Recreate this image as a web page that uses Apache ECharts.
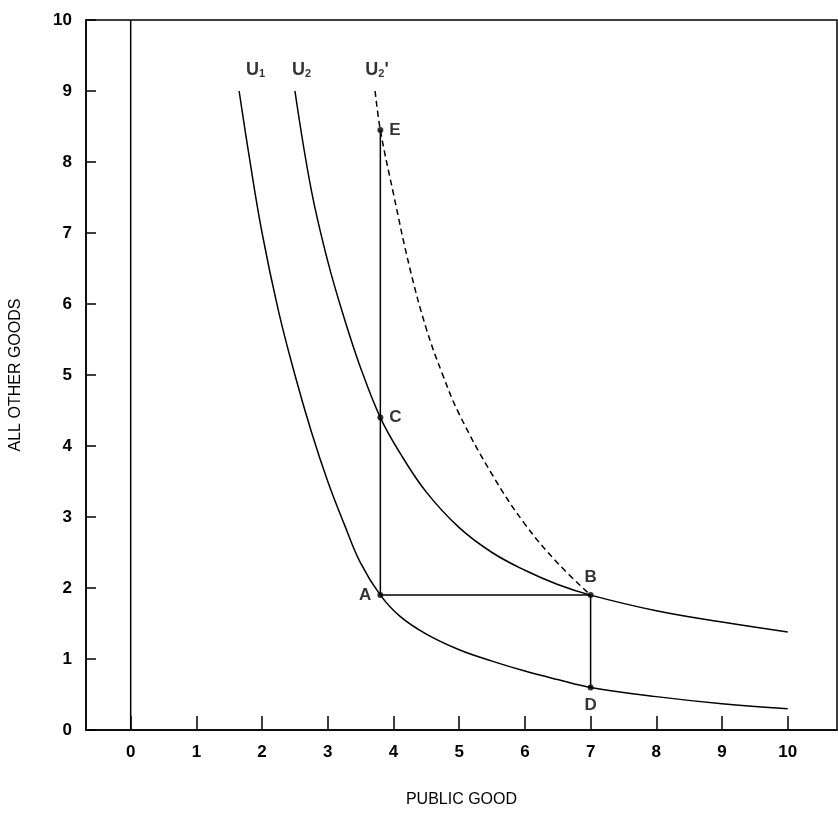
<!DOCTYPE html>
<html><head><meta charset="utf-8">
<script src="https://cdn.jsdelivr.net/npm/echarts@6/dist/echarts.min.js"></script>
<style>body{margin:0;background:#fff}#main{width:838px;height:831px}</style>
</head><body><div id="main"></div>
<script>
var ticks = [0, 1, 2, 3, 4, 5, 6, 7, 8, 9, 10];
var u1 = [[1.65,9],[1.8,8.1],[2,7],[2.25,5.9],[2.5,5],[2.75,4.2],[3,3.5],[3.25,2.9],[3.5,2.35],[3.8,1.9],[4.1,1.6],[4.5,1.35],[5,1.13],[5.5,0.97],[6,0.83],[6.5,0.71],[7,0.6],[8,0.47],[9,0.37],[10,0.3]];
var u2 = [[2.5,9],[2.75,7.6],[3,6.6],[3.25,5.8],[3.5,5.1],[3.8,4.4],[4.1,3.9],[4.5,3.35],[5,2.85],[5.5,2.5],[6,2.25],[6.5,2.05],[7,1.9],[8,1.68],[9,1.52],[10,1.38]];
var u2p = [[3.72,9],[3.8,8.45],[4,7.55],[4.25,6.5],[4.5,5.65],[4.75,5],[5,4.45],[5.5,3.6],[6,2.9],[6.5,2.35],[7,1.9]];
var segs = [[[3.8,1.9],[3.8,8.45]], [[3.8,1.9],[7,1.9]], [[7,1.9],[7,0.6]], [[0,0],[0,10]]];
var pts = [['A',3.8,1.9,'left'],['B',7,1.9,'top'],['C',3.8,4.4,'right'],['D',7,0.6,'bottom'],['E',3.8,8.45,'right']];
var curveLabels = [['{b|U}{s|1}',1.9,9.3],['{b|U}{s|2}',2.6,9.3],['{b|U}{s|2}{b|\'}',3.75,9.3]];

var font = {fontFamily: 'Liberation Sans', fontWeight: 'bold', fontSize: 17, color: '#000'};
var rich = {b: {fontFamily: 'Liberation Sans', fontWeight: 'bold', fontSize: 18, color: '#000'},
  s: {fontFamily: 'Liberation Sans', fontWeight: 'bold', fontSize: 11, color: '#000', verticalAlign: 'bottom', padding: [8, 0, 0, 0]}};
var series = [];
[u1, u2].forEach(function (d) {
  series.push({type: 'line', data: d, smooth: 0.4, symbol: 'none', lineStyle: {color: '#000', width: 1.5}});
});
series.push({type: 'line', data: u2p, smooth: 0.4, symbol: 'none', lineStyle: {color: '#000', width: 1.5, type: [6, 4]}});
segs.forEach(function (s) {
  series.push({type: 'line', data: s, symbol: 'none', lineStyle: {color: '#000', width: 1.5}});
});
series.push({type: 'scatter', symbolSize: 6, itemStyle: {color: '#000'},
  data: pts.map(function (p) { return {value: [p[1], p[2]], label: {show: true, formatter: p[0], position: p[3], distance: 6, color: '#000'}}; }),
  label: font});
series.push({type: 'scatter', symbolSize: 0,
  data: curveLabels.map(function (p) { return {value: [p[1], p[2]], label: {show: true, formatter: p[0], position: 'inside', rich: rich}}; }),
  label: font});

var chart = echarts.init(document.getElementById('main'));
chart.setOption({
  animation: false,
  grid: {left: 85, right: 1, top: 20, bottom: 101, show: true, borderColor: '#000', borderWidth: 1.5},
  xAxis: {type: 'value', min: -0.68, max: 10.75, splitLine: {show: false},
    name: 'PUBLIC GOOD', nameLocation: 'middle', nameGap: 62, nameTextStyle: {fontFamily: 'Liberation Sans', fontSize: 16, color: '#000'},
    axisLine: {onZero: false, lineStyle: {color: '#000', width: 1.5}},
    axisTick: {inside: true, length: 14, customValues: ticks, lineStyle: {color: '#000', width: 1.5}},
    axisLabel: Object.assign({customValues: ticks, margin: 14}, font)},
  yAxis: {type: 'value', min: 0, max: 10, interval: 1, splitLine: {show: false},
    name: 'ALL OTHER GOODS', nameLocation: 'middle', nameGap: 62, nameTextStyle: {fontFamily: 'Liberation Sans', fontSize: 16, color: '#000'},
    axisLine: {onZero: false, lineStyle: {color: '#000', width: 1.5}},
    axisTick: {inside: true, length: 10, lineStyle: {color: '#000', width: 1.5}},
    axisLabel: Object.assign({margin: 14}, font)},
  series: series
});
</script></body></html>
